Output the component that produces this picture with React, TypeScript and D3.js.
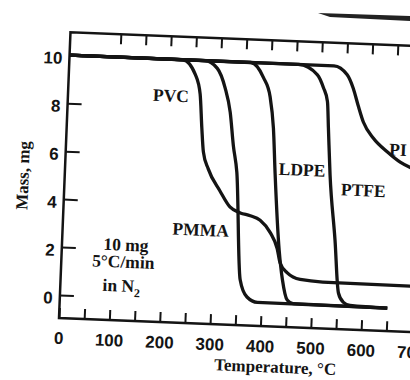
import { useEffect, useRef } from 'react';
import * as d3 from 'd3';

// values (temperature °C, mass mg)
const pvc: [number, number][] = [
  [0, 10], [225, 10], [251, 9.4], [262, 8.6], [268, 7.2], [273, 6.2], [284, 5.5],
  [309, 4.6], [330, 3.95], [351, 3.72], [371, 3.62], [391, 3.45], [412, 2.95],
  [427, 2.3], [434, 1.7], [449, 1.3], [475, 1.05], [520, 0.98], [720, 0.95],
];
const pmma: [number, number][] = [
  [0, 10], [269, 10], [294, 9.7], [311, 8.9], [323, 7.9], [332, 6.5], [341, 5.4],
  [356, 0.95], [371, 0.23], [392, 0.02], [650, 0],
];
const ldpe: [number, number][] = [
  [0, 10], [360, 10], [386, 9.4], [401, 8.6], [410, 7.3], [417, 5.4], [431, 2.25],
  [440, 1.0], [451, 0.17], [463, 0.03], [650, 0],
];
const ptfe: [number, number][] = [
  [0, 10], [455, 10], [493, 9.6], [506, 9.07], [515, 8.5], [519, 7.4], [526, 5.45],
  [541, 2.75], [552, 0.55], [562, 0.18], [576, 0.05], [650, 0],
];
const pi: [number, number][] = [
  [0, 10], [525, 10], [552, 9.65], [565, 9.1], [576, 8.4], [588, 7.7], [609, 7.05],
  [638, 6.5], [664, 6.1], [690, 5.85], [720, 5.65],
];

const massTicks = [0, 2, 4, 6, 8, 10];
const tempTicks = [50, 100, 150, 200, 250, 300, 350, 400, 450, 500, 550, 600, 650, 700];
const tempLabels = [0, 100, 200, 300, 400, 500, 600, 700];

export default function App() {
  const ref = useRef<SVGSVGElement>(null);

  useEffect(() => {
    const svg = d3.select(ref.current);
    svg.selectAll('*').remove();

    const left = 59;
    const bottom = 318;
    const top = 32;
    const ink = '#141414';

    const x = d3.scaleLinear().domain([0, 700]).range([left, left + 700 * 0.504]);
    const y = d3.scaleLinear().domain([0, 10]).range([295, 55]);

    svg.append('rect').attr('width', 410).attr('height', 380).attr('fill', '#fff');

    // the scan is tilted a little clockwise
    const g = svg
      .append('g')
      .attr('transform', `rotate(2.3, ${left}, ${bottom})`)
      .style('font-family', '"Liberation Serif", serif')
      .style('font-weight', 'bold')
      .attr('fill', ink);

    // frame
    g.append('path')
      .attr('d', `M${left + 400},${top} H${left} V${bottom} H${left + 400}`)
      .attr('fill', 'none')
      .attr('stroke', ink)
      .attr('stroke-width', 2.5);

    const xAxis = g
      .append('g')
      .attr('transform', `translate(0, ${bottom})`)
      .call(
        d3
          .axisBottom(x)
          .tickValues([0, ...tempTicks])
          .tickSize(-10)
          .tickPadding(14)
          .tickFormat(d => (tempLabels.includes(+d) ? String(d) : ''))
      );
    xAxis.select('.domain').remove();
    xAxis.selectAll('line').attr('stroke', ink).attr('stroke-width', 2);
    xAxis.selectAll('text').attr('fill', ink).style('font-size', '17px');

    const topAxis = g
      .append('g')
      .attr('transform', `translate(0, ${top})`)
      .call(d3.axisTop(x).tickValues(tempTicks.slice(1)).tickSize(-10).tickFormat(() => ''));
    topAxis.select('.domain').remove();
    topAxis.selectAll('line').attr('stroke', ink).attr('stroke-width', 2);

    const yAxis = g
      .append('g')
      .attr('transform', `translate(${left}, 0)`)
      .call(d3.axisLeft(y).tickValues(massTicks).tickSize(-14).tickPadding(7));
    yAxis.select('.domain').remove();
    yAxis.selectAll('line').attr('stroke', ink).attr('stroke-width', 2);
    yAxis.selectAll('text').attr('fill', ink).attr('dy', '0.5em').style('font-size', '17px');

    const line = d3
      .line<[number, number]>()
      .x(d => x(d[0]))
      .y(d => y(d[1]))
      .curve(d3.curveMonotoneX);

    g.selectAll('path.curve')
      .data([pvc, pmma, ldpe, ptfe, pi])
      .enter()
      .append('path')
      .attr('class', 'curve')
      .attr('d', d => line(d))
      .attr('fill', 'none')
      .attr('stroke', ink)
      .attr('stroke-width', 3.3)
      .attr('stroke-linejoin', 'round');

    const labels = [
      { text: 'PVC', x: 162, y: 91 },
      { text: 'PMMA', x: 197, y: 224 },
      { text: 'LDPE', x: 296, y: 160 },
      { text: 'PTFE', x: 358, y: 178 },
      { text: 'PI', x: 391, y: 136 },
      { text: '10 mg', x: 123, y: 242 },
      { text: '5°C/min', x: 121, y: 259 },
    ];
    g.selectAll('text.label')
      .data(labels)
      .enter()
      .append('text')
      .attr('class', 'label')
      .attr('x', d => d.x)
      .attr('y', d => d.y)
      .attr('dy', '0.35em')
      .attr('text-anchor', 'middle')
      .style('font-size', '17.5px')
      .text(d => d.text);

    const n2 = g
      .append('text')
      .attr('x', 120)
      .attr('y', 283)
      .attr('dy', '0.35em')
      .attr('text-anchor', 'middle')
      .style('font-size', '17.5px');
    n2.append('tspan').text('in N');
    n2.append('tspan').attr('dy', 5).style('font-size', '12px').text('2');

    g.append('text')
      .attr('transform', 'translate(17, 177) rotate(-90)')
      .attr('text-anchor', 'middle')
      .attr('dy', '0.35em')
      .style('font-size', '17px')
      .text('Mass, mg');

    g.append('text')
      .attr('x', 277)
      .attr('y', 358)
      .attr('dy', '0.35em')
      .attr('text-anchor', 'middle')
      .style('font-size', '17px')
      .text('Temperature, °C');

    // dark smudge along the top edge of the scan
    svg
      .append('path')
      .attr('d', 'M318,13 L410,16 L410,21 L330,17 Z')
      .attr('fill', '#222');
  }, []);

  return (
    <svg
      ref={ref}
      width={410}
      height={380}
      style={{ position: 'absolute', left: 0, top: 0 }}
    />
  );
}
